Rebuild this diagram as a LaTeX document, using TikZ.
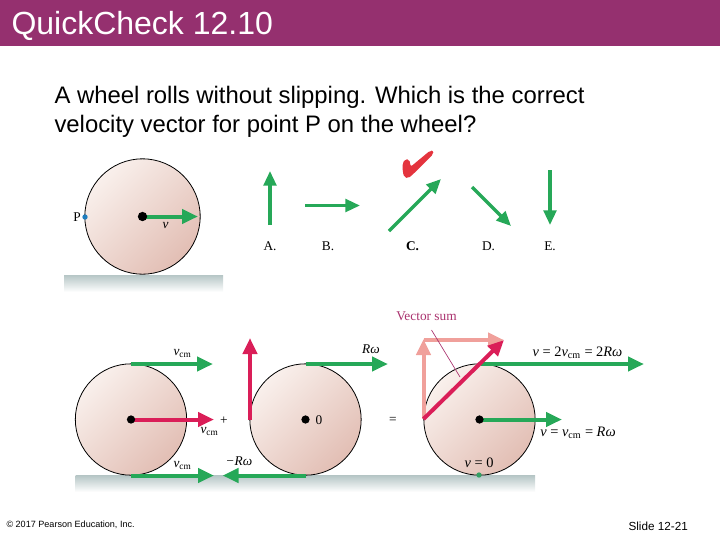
\documentclass[tikz,border=0pt]{standalone}
\usepackage{fontspec}
\setmainfont{Liberation Serif}
\newfontfamily\slidefont{Liberation Sans}
\usetikzlibrary{arrows.meta}
\tikzset{every picture/.style={line width=0.75pt}}
\definecolor{barcol}{RGB}{149,48,111}
\definecolor{velgreen}{RGB}{38,168,88}
\definecolor{velred}{RGB}{218,30,88}
\definecolor{velpink}{RGB}{240,160,155}
\definecolor{sumcol}{RGB}{170,50,110}
\definecolor{groundtop}{RGB}{182,198,198}
\definecolor{wheellight}{RGB}{249,240,236}
\definecolor{wheeldark}{RGB}{226,190,180}
\definecolor{checkcol}{RGB}{228,52,62}
\newcommand{\vcmtext}{\textit{v}\textsubscript{cm}}
\tikzset{
  wheelcirc/.style={circle,draw=black,line width=0.6pt,left color=wheellight,right color=wheeldark,shading angle=45,inner sep=0pt},
  groundbox/.style={top color=groundtop,bottom color=white,draw=none},
  hubdot/.style={circle,fill=black,inner sep=0pt,minimum size=7pt},
  vgreen/.style={draw=velgreen,line width=3pt,-{Triangle[length=12pt,width=10.5pt]}},
  vthin/.style={draw=velgreen,line width=2.5pt,-{Triangle[length=11pt,width=9.5pt]}},
  vred/.style={draw=velred,line width=3pt,-{Triangle[length=12pt,width=10.5pt]}},
  vpink/.style={draw=velpink,line width=3pt,-{Triangle[length=12pt,width=10.5pt]}},
  figlabel/.style={inner sep=0.75pt,font=\fontsize{10}{12}\selectfont},
  eqlabel/.style={inner sep=0.75pt,font=\fontsize{10.8}{13}\selectfont},
  slidetext/.style={inner sep=0.75pt,anchor=north west,align=left,font=\slidefont\fontsize{17.9}{21.7}\selectfont}
}
\begin{document}
\begin{tikzpicture}[x=0.75pt,y=0.75pt,yscale=-1,xscale=1]
\useasboundingbox (0,0) rectangle (720,540);

%Title bar
\fill [barcol] (0,0) rectangle (720,46);
\node (title) at (11,26) [anchor=west,inner sep=0pt,text=white,font=\slidefont\fontsize{24}{28}\selectfont] {QuickCheck 12.10};
\node (question) at (53,85) [slidetext] {A wheel rolls without slipping. Which is the correct\\velocity vector for point P on the wheel?};

%Top wheel
\fill [groundbox] (64,275) rectangle (223,292);
\node (topwheel) at (142.5,216.5) [wheelcirc,minimum size=86.5pt] {};
\coordinate (vstart) at (142.5,216.5);
\coordinate (vtip) at (198,216.5);
\draw [vgreen] (vstart) -- (vtip);
\node (tophub) at (142.5,216.5) [hubdot] {};
\node (vlabel) at (165.5,225) [figlabel] {\textit{v}};
\node (pointP) at (85,217) [circle,fill={rgb,255:red,30;green,125;blue,190},inner sep=0pt,minimum size=4pt] {};
\node (plabel) at (77,217) [figlabel] {P};

%Answer arrows
\coordinate (a1) at (270,225); \coordinate (a2) at (270,171);
\coordinate (b1) at (305,205.5); \coordinate (b2) at (360,205.5);
\coordinate (c1) at (389,231); \coordinate (c2) at (441,179);
\coordinate (d1) at (472,187); \coordinate (d2) at (511,226);
\coordinate (e1) at (550,170); \coordinate (e2) at (550,225);
\draw [vthin] (a1) -- (a2);
\draw [vthin] (b1) -- (b2);
\draw [vthin] (c1) -- (c2);
\draw [vthin] (d1) -- (d2);
\draw [vthin] (e1) -- (e2);
\node (labA) at (270,246.5) [figlabel] {A.};
\node (labB) at (328,246.5) [figlabel] {B.};
\node (labC) at (412.5,246.5) [figlabel] {\textbf{C.}};
\node (labD) at (488.5,246.5) [figlabel] {D.};
\node (labE) at (550,246.5) [figlabel] {E.};

%Check mark
\fill [checkcol,rounded corners=1.5pt] (402.7,162.7) -- (405,159.3) -- (409.3,159.3) -- (410.7,166.7) -- (430,150.7) -- (433.3,150.7) -- (433.3,154) -- (414,173.3) -- (408.3,178.3) -- (404.3,177.3) -- (402.7,171.7) -- cycle;

%Bottom ground
\fill [groundbox] (75.5,475.5) rectangle (535,492);

%Bottom wheels
\node (wheelA) at (131,419.5) [wheelcirc,minimum size=83.5pt] {};
\node (wheelB) at (305.5,419.5) [wheelcirc,minimum size=83.5pt] {};
\node (wheelC) at (479.5,419.5) [wheelcirc,minimum size=83.5pt] {};

%Wheel A arrows
\coordinate (atop) at (131,364); \coordinate (atoptip) at (213,364);
\coordinate (amid) at (131,419.5); \coordinate (amidtip) at (214,419.5);
\coordinate (abot) at (131,475.5); \coordinate (abottip) at (214,475.5);
\draw [vgreen] (atop) -- (atoptip);
\draw [vred] (amid) -- (amidtip);
\draw [vgreen] (abot) -- (abottip);

%Wheel B arrows
\coordinate (btop) at (305.5,364); \coordinate (btoptip) at (388,364);
\coordinate (bbot) at (305.5,475.5); \coordinate (bbottip) at (222.5,475.5);
\coordinate (bleft) at (250,419.5); \coordinate (blefttip) at (250,338);
\draw [vgreen] (btop) -- (btoptip);
\draw [vgreen] (bbot) -- (bbottip);
\draw [vred] (bleft) -- (blefttip);

%Wheel C arrows
\coordinate (cleft) at (423.5,419); \coordinate (cuptip) at (423.5,339);
\coordinate (ccorner) at (423.5,340); \coordinate (cright) at (504,340);
\coordinate (ctop) at (481,364); \coordinate (ctoptip) at (644,364);
\coordinate (cmid) at (479.5,419.5); \coordinate (cmidtip) at (562,419.5);
\draw [vpink] (cleft) -- (cuptip);
\draw [vpink] (ccorner) -- (cright);
\draw [vgreen] (ctop) -- (ctoptip);
\draw [vred] (cleft) -- (cright);
\draw [vgreen] (cmid) -- (cmidtip);
\node (pointC) at (479,475) [circle,fill={rgb,255:red,50;green,160;blue,100},inner sep=0pt,minimum size=4pt] {};

%Hubs
\node (hubA) at (131,419.5) [hubdot,minimum size=6.2pt] {};
\node (hubB) at (305.5,419.5) [hubdot,minimum size=6.2pt] {};
\node (hubC) at (479.5,419.5) [hubdot,minimum size=6.2pt] {};

%Vector sum leader
\node (sumlabel) at (426.5,316.5) [figlabel,text=sumcol] {Vector sum};
\coordinate (sumstart) at (431.5,330);
\coordinate (sumend) at (460,377);
\draw [sumcol,line width=0.5pt] (sumstart) -- (sumend);

%Labels
\node (vcmA) at (182.5,353) [figlabel] {\vcmtext};
\node (vcmB) at (209.5,431.5) [figlabel] {\vcmtext};
\node (vcmC) at (182.5,465) [figlabel] {\vcmtext};
\node (plus) at (224,420.5) [figlabel] {+};
\node (zero) at (319,420) [figlabel] {0};
\node (romega) at (371,349) [figlabel] {\textit{Rω}};
\node (mromega) at (239,461.5) [figlabel] {\textit{−Rω}};
\node (equal) at (393,420.5) [figlabel] {=};
\node (vtwo) at (577.5,352.5) [eqlabel] {\textit{v} = 2\vcmtext{} = 2\textit{Rω}};
\node (vone) at (578,432.5) [eqlabel] {\textit{v} = \vcmtext{} = \textit{Rω}};
\node (vzero) at (479,463) [eqlabel] {\textit{v} = 0};

%Footer
\node (copyright) at (6,525) [anchor=west,inner sep=0pt,font=\slidefont\fontsize{6.8}{8}\selectfont] {© 2017 Pearson Education, Inc.};
\node (slidenum) at (628,526) [anchor=west,inner sep=0pt,font=\slidefont\fontsize{8.8}{10}\selectfont] {Slide 12-21};

\end{tikzpicture}
\end{document}
